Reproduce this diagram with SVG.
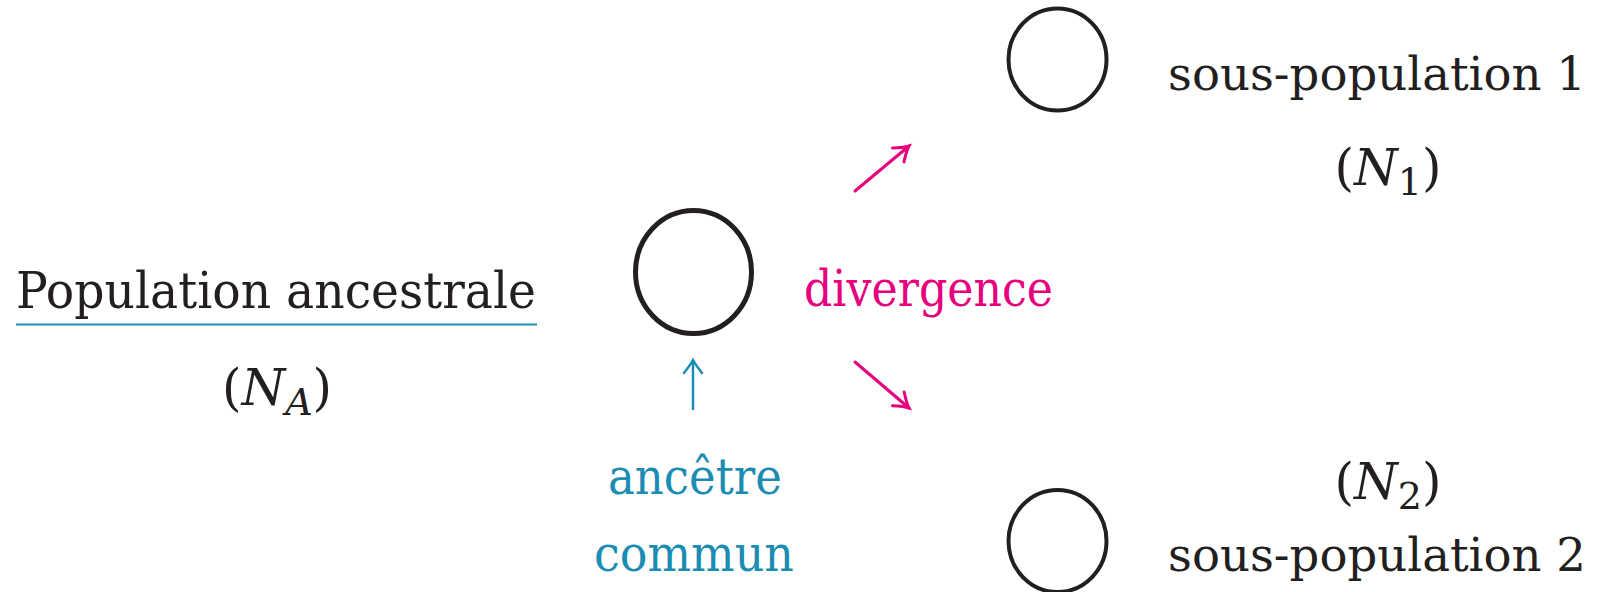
<svg xmlns="http://www.w3.org/2000/svg" width="1598" height="592" viewBox="0 0 1598 592">
<style>
text{font-family:'DejaVu Serif','Liberation Serif',serif;font-size:50px;fill:#231f20}
.sub{font-size:47px}
.pink{fill:#e6007e}
.teal{fill:#1b8db3}
.node{fill:none;stroke:#231f20}
.it{font-style:italic}
</style>
<defs>
<marker id="hp" markerUnits="userSpaceOnUse" markerWidth="30" markerHeight="30" viewBox="-20 -15 30 30" refX="0" refY="0" orient="auto">
<path d="M-14,-9 Q-5,-2 0,0 Q-5,2 -14,9" fill="none" stroke="#e6007e" stroke-width="3" stroke-linecap="round"/>
</marker>
<marker id="ht" markerUnits="userSpaceOnUse" markerWidth="30" markerHeight="30" viewBox="-20 -15 30 30" refX="0" refY="0" orient="auto">
<path d="M-13,-9 Q-4,-2 0,0 Q-4,2 -13,9" fill="none" stroke="#1b8db3" stroke-width="2.5" stroke-linecap="round"/>
</marker>
</defs>
<rect width="1598" height="592" fill="#ffffff"/>
<g id="ancestral">
<text x="16" y="308" textLength="520" lengthAdjust="spacingAndGlyphs">Population ancestrale</text>
<line x1="16" y1="324.5" x2="537" y2="324.5" stroke="#1b8db3" stroke-width="2.2"/>
<text x="277" y="405" text-anchor="middle" font-size="54">(<tspan class="it">N</tspan><tspan class="it" font-size="38" dy="10">A</tspan><tspan dy="-10">)</tspan></text>
</g>
<g id="center-node">
<ellipse class="node" cx="693.5" cy="272" rx="58" ry="61.5" stroke-width="5"/>
</g>
<g id="divergence-label">
<text class="pink" x="804" y="306" textLength="249" lengthAdjust="spacingAndGlyphs">divergence</text>
</g>
<g id="ancetre-label">
<text class="teal" x="608" y="494" textLength="174" lengthAdjust="spacingAndGlyphs">ancêtre</text>
<text class="teal" x="594" y="571" textLength="200" lengthAdjust="spacingAndGlyphs">commun</text>
</g>
<g id="subpop1">
<ellipse class="node" cx="1057.5" cy="59.5" rx="49" ry="51" stroke-width="4"/>
<text class="sub" x="1168" y="90" textLength="418" lengthAdjust="spacingAndGlyphs">sous-population 1</text>
<text x="1388" y="185" text-anchor="middle" font-size="54">(<tspan class="it">N</tspan><tspan font-size="38" dy="10">1</tspan><tspan dy="-10">)</tspan></text>
</g>
<g id="subpop2">
<ellipse class="node" cx="1057.5" cy="541" rx="49" ry="51" stroke-width="4"/>
<text x="1388" y="499" text-anchor="middle" font-size="54">(<tspan class="it">N</tspan><tspan font-size="38" dy="10">2</tspan><tspan dy="-10">)</tspan></text>
<text class="sub" x="1168" y="571" textLength="418" lengthAdjust="spacingAndGlyphs">sous-population 2</text>
</g>
<g id="connectors" fill="none">
<line x1="855" y1="191" x2="909" y2="146" stroke="#e6007e" stroke-width="3" stroke-linecap="round" marker-end="url(#hp)"/>
<line x1="855" y1="362" x2="909" y2="408" stroke="#e6007e" stroke-width="3" stroke-linecap="round" marker-end="url(#hp)"/>
<line x1="693" y1="410" x2="693" y2="360" stroke="#1b8db3" stroke-width="2.5" marker-end="url(#ht)"/>
</g>
</svg>
